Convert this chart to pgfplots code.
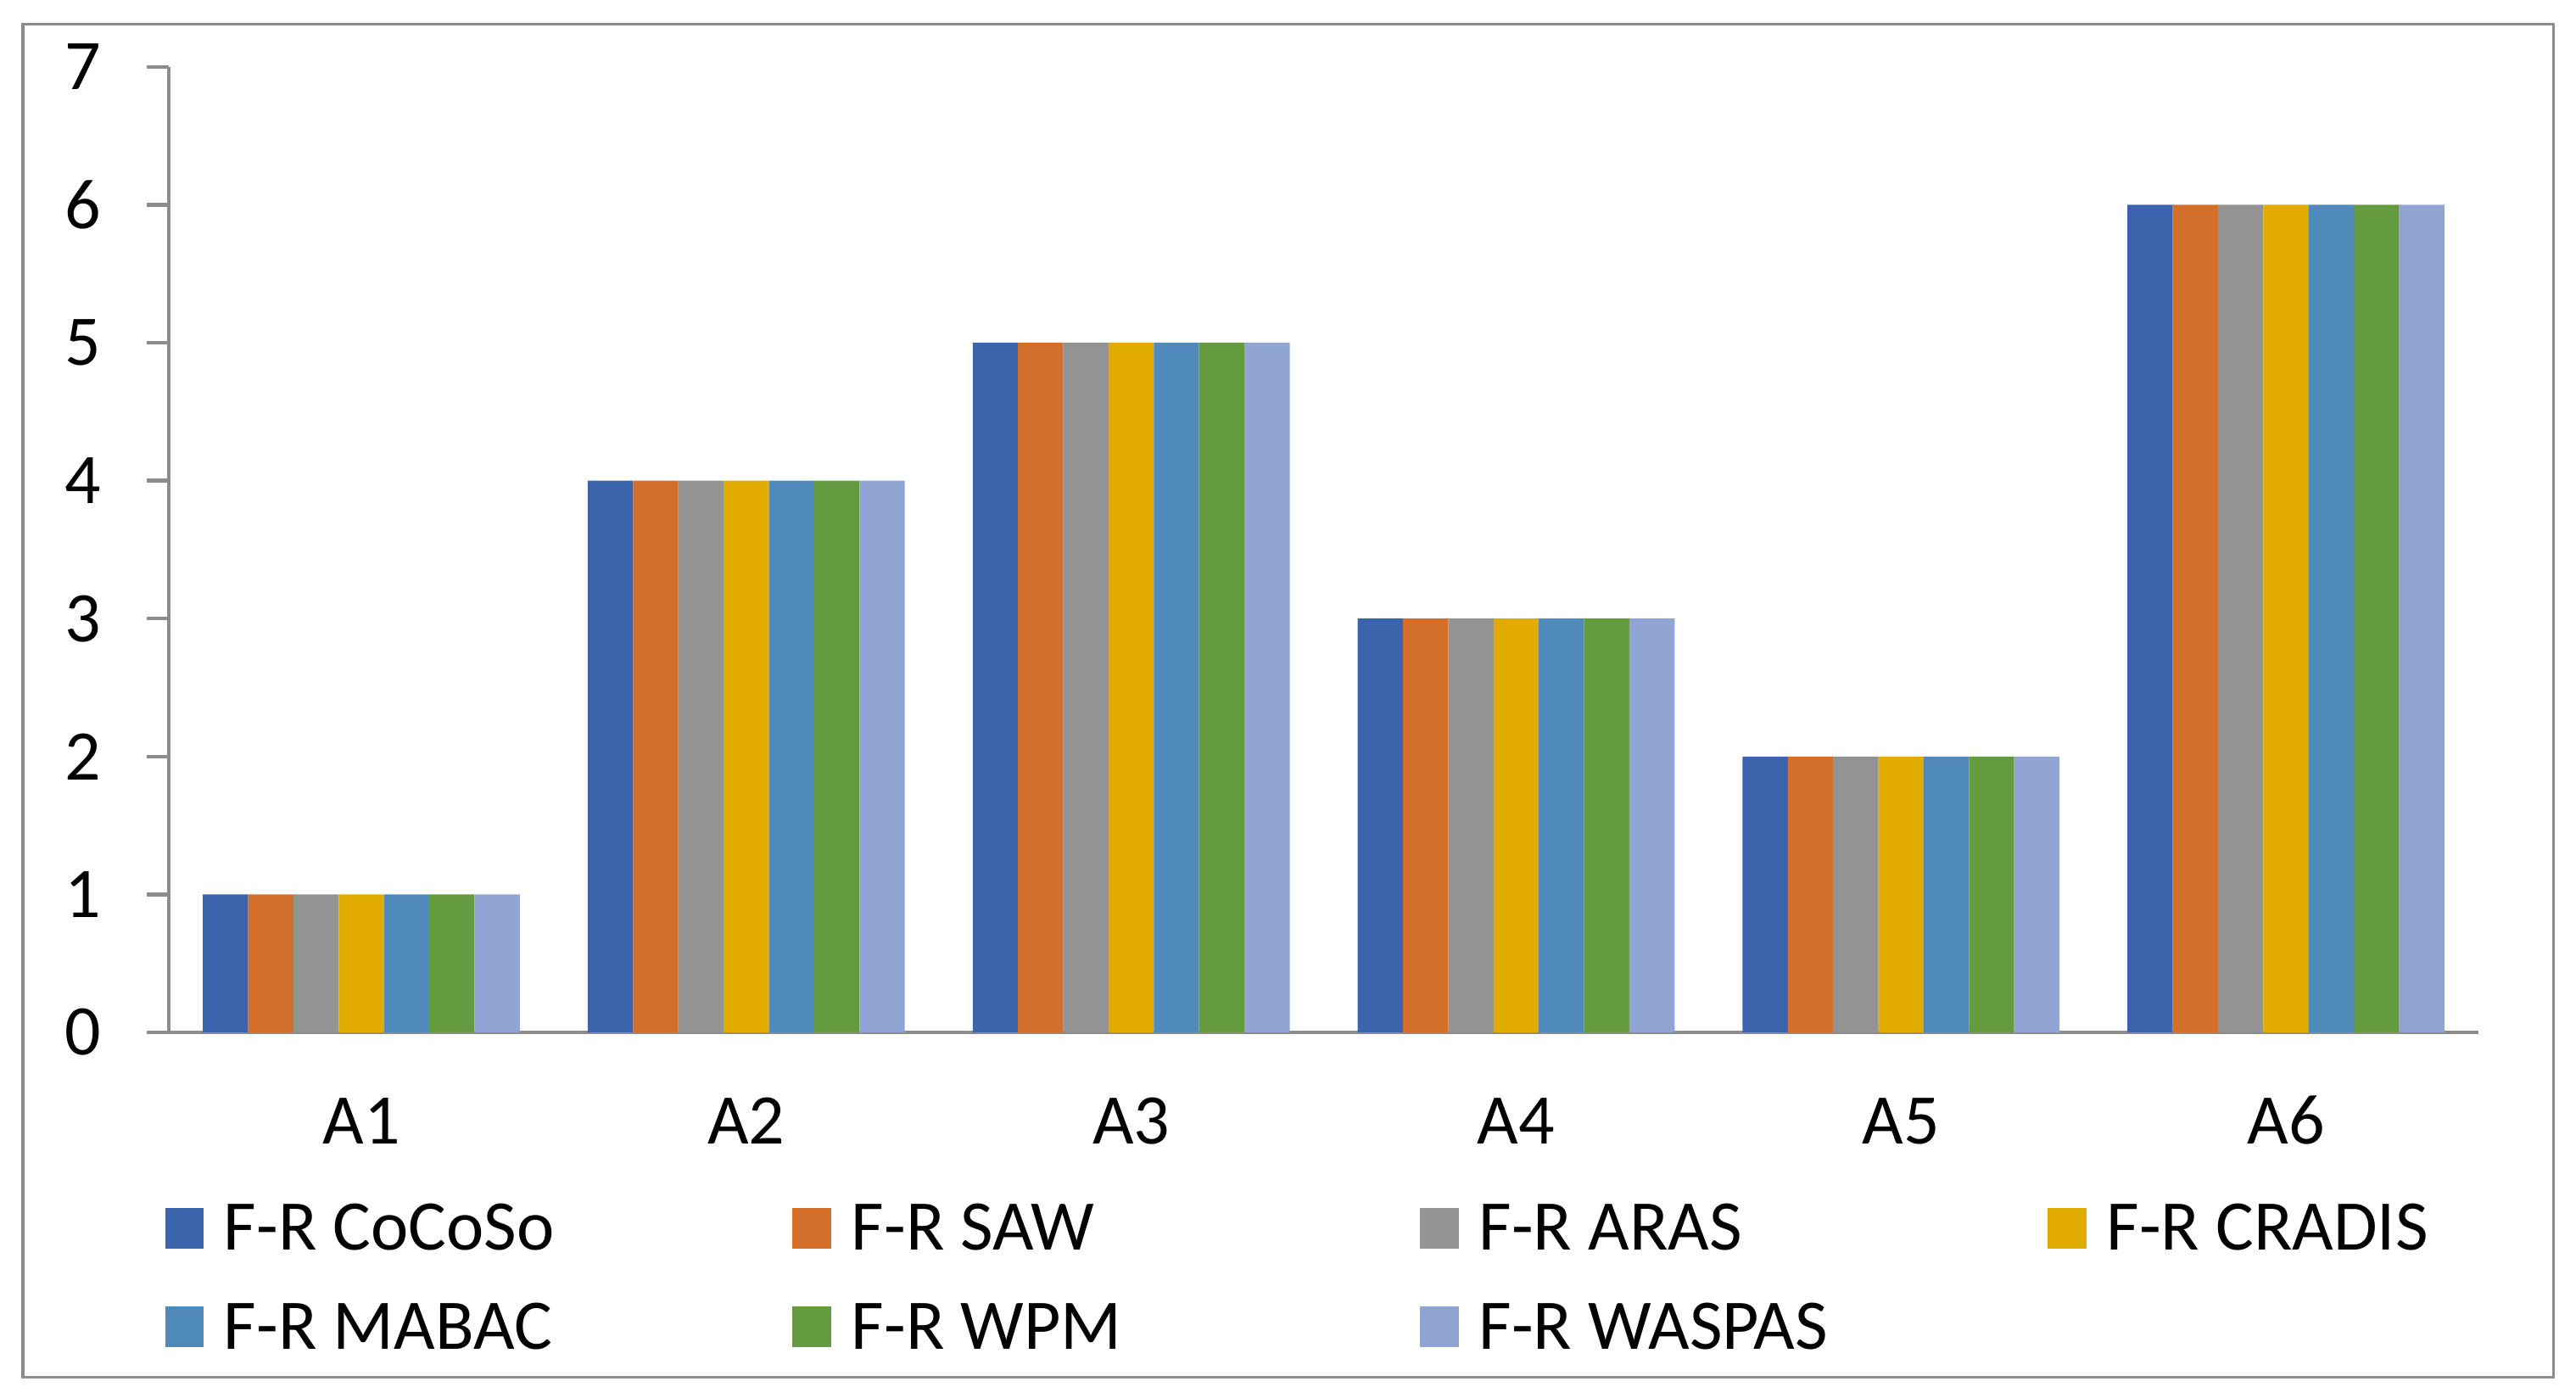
\documentclass[border=0pt]{standalone}
\usepackage{fontspec}
\setmainfont{Carlito}
\usepackage{pgfplots}
\usepackage{pgfplotstable}
\pgfplotsset{compat=1.18}

\definecolor{cA}{RGB}{59,100,173}
\definecolor{cB}{RGB}{211,110,43}
\definecolor{cC}{RGB}{147,147,147}
\definecolor{cD}{RGB}{226,171,0}
\definecolor{cE}{RGB}{80,138,189}
\definecolor{cF}{RGB}{101,155,64}
\definecolor{cG}{RGB}{145,165,213}
\definecolor{axgray}{RGB}{140,140,140}

% ranks of the six alternatives under each method
\pgfplotstableread{
x cocoso saw aras cradis mabac wpm waspas
0 1 1 1 1 1 1 1
1 4 4 4 4 4 4 4
2 5 5 5 5 5 5 5
3 3 3 3 3 3 3 3
4 2 2 2 2 2 2 2
5 6 6 6 6 6 6 6
}\ranks

\newcommand{\lbl}[1]{\makebox[102.4pt][l]{#1}}

\begin{document}
\begin{tikzpicture}
\path[use as bounding box] (-30.84pt,-66.76pt) rectangle (439.56pt,188.49pt);
\pgfplotsset{
  sq/.style={draw=none, fill=#1,
    legend image code/.code={\fill[#1] (0pt,-3.9pt) rectangle (7.1pt,3.5pt);}},
}
\begin{axis}[
    scale only axis,
    width=421.74pt, height=176.3pt,
    ybar=0pt,
    bar width=0.11765,
    xmin=-0.5, xmax=5.5,
    ymin=0, ymax=7,
    ytick={0,1,...,7},
    xtick={0,...,5},
    xticklabels={A1,A2,A3,A4,A5,A6},
    major x tick style={draw=none},
    extra x ticks={-0.5,0.5,1.5,2.5,3.5,4.5,5.5},
    extra x tick labels={},
    extra x tick style={tick style={axgray, line width=0.7pt}},
    axis lines*=left,
    axis line style={axgray, line width=0.7pt},
    tick style={axgray, line width=0.7pt},
    tick align=outside,
    major tick length=4pt,
    /pgf/number format/assume math mode=true,
    tick label style={font=\fontsize{13}{15}\selectfont, text=black},
    yticklabel style={anchor=east, inner sep=0pt, xshift=-8.2pt},
    xticklabel style={anchor=base, inner sep=0pt, yshift=-16.4pt},
    legend columns=4,
    legend style={
      draw=none, fill=none, inner sep=0pt,
      at={(axis description cs:0,0)}, anchor=north west,
      xshift=-0.9pt, yshift=-31.2pt,
      font=\fontsize{13}{15}\selectfont,
      row sep=9.6pt,
      cells={anchor=center},
      nodes={inner xsep=1.45pt, inner ysep=0pt, text height=8.4pt, text depth=0pt},
      /tikz/every odd column/.append style={column sep=2.2pt},
    },
    clip=false,
  ]
  \addplot[sq=cA] table[x=x, y=cocoso] {\ranks};
  \addplot[sq=cB] table[x=x, y=saw] {\ranks};
  \addplot[sq=cC] table[x=x, y=aras] {\ranks};
  \addplot[sq=cD] table[x=x, y=cradis] {\ranks};
  \addplot[sq=cE] table[x=x, y=mabac] {\ranks};
  \addplot[sq=cF] table[x=x, y=wpm] {\ranks};
  \addplot[sq=cG] table[x=x, y=waspas] {\ranks};
  \legend{\lbl{F-R CoCoSo},\lbl{F-R SAW},\lbl{F-R ARAS},\lbl{F-R CRADIS},
          \lbl{F-R MABAC},\lbl{F-R WPM},\lbl{F-R WASPAS}}
\end{axis}
% chart area border
\draw[axgray, line width=0.5pt] (-26.67pt,-62.91pt) rectangle (435.39pt,184.11pt);
\end{tikzpicture}
\end{document}
